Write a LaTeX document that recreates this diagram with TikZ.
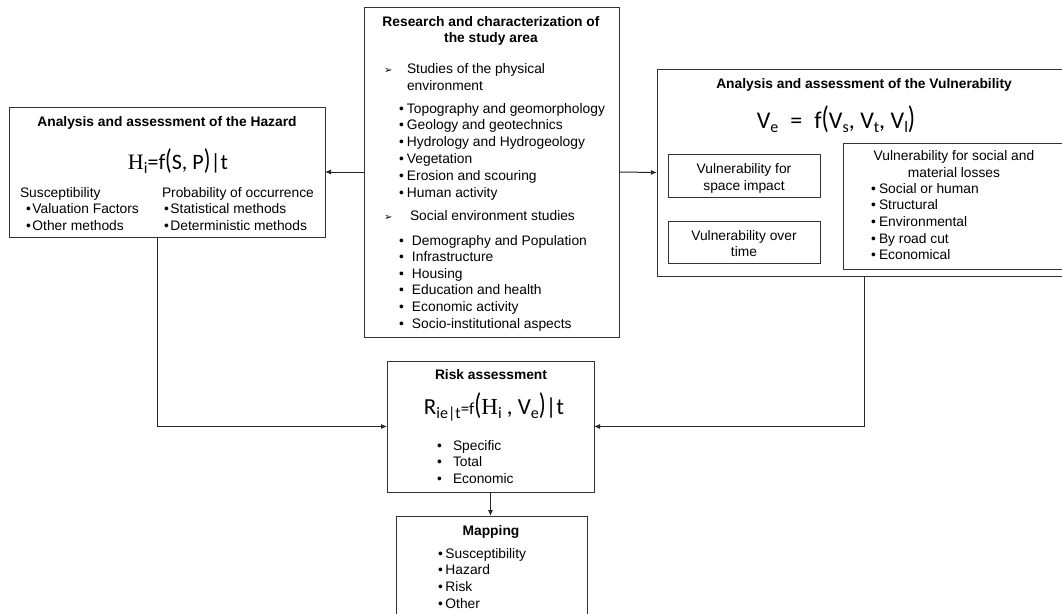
\documentclass[tikz,border=0pt]{standalone}
\usepackage{fontspec}
\usepackage{graphicx}
\setmainfont{Liberation Sans}
\newfontfamily\dejavu{DejaVu Sans}
\newfontfamily\calfont{Carlito}
\newfontfamily\serfont{Liberation Serif}
\usetikzlibrary{arrows.meta}
\newcommand\mysub[1]{\raisebox{-4pt}{\fontsize{16}{16}\selectfont #1}}
\newcommand\bigpar[1]{\scalebox{1}[1.3]{#1}}
\newcommand\arrowmark{{\dejavu\fontsize{10}{10}\selectfont ➢}}
\begin{document}
\begin{tikzpicture}[x=1pt,y=-1pt,
 box/.style={draw=black!80, line width=1pt, inner sep=0, outer sep=0},
 txt/.style={inner sep=0, outer sep=0, font=\fontsize{13.8}{16.6}\selectfont},
 ttl/.style={inner sep=0, outer sep=0, font=\fontsize{13.8}{16.6}\selectfont\bfseries},
 conn/.style={draw=black!85, line width=1pt},
 arr/.style={conn, -{Latex[length=6pt,width=5pt]}},
]
\useasboundingbox (0,0) rectangle (1062,613);
\clip (0,0) rectangle (1062,613);

% boxes
\node[box, anchor=north west, minimum width=255pt, minimum height=330pt] (study) at (364,7) {};
\node[box, anchor=north west, minimum width=316pt, minimum height=130pt] (hazard) at (9,107) {};
\node[box, anchor=north west, minimum width=420pt, minimum height=207pt] (vuln) at (657,69) {};
\node[box, anchor=north west, minimum width=152pt, minimum height=43pt] (space) at (668,154) {};
\node[box, anchor=north west, minimum width=152pt, minimum height=42pt] (overtime) at (668,221) {};
\node[box, anchor=north west, minimum width=230pt, minimum height=126pt] (losses) at (843,143) {};
\node[box, anchor=north west, minimum width=207pt, minimum height=131pt] (risk) at (387,361) {};
\node[box, anchor=north west, minimum width=191pt, minimum height=110pt] (mapping) at (396,516) {};

% connectors
\draw[arr] (study.west) -- (hazard.east);
\draw[arr] (study.east) -- (vuln.west);
\draw[arr] ([xshift=-10pt]hazard.south) |- (risk.west);
\draw[arr] ([xshift=-3pt]vuln.south) |- (risk.east);
\draw[arr] (risk.south) -- (risk.south |- mapping.north);

% study area
\node[ttl, anchor=base] (st1) at (491,26) {Research and characterization of};
\node[ttl, anchor=base] (st2) at (491,42) {the study area};
\node[txt, anchor=base west] (sa1) at (384,73) {\makebox[23pt][l]{\arrowmark}Studies of the physical};
\node[txt, anchor=base west] (sa2) at (407,90) {environment};
\foreach \t [count=\i] in {Topography and geomorphology, Geology and geotechnics, Hydrology and Hydrogeology, Vegetation, Erosion and scouring, Human activity}
  \node[txt, anchor=base west] (sp\i) at ({399},{96.2+16.8*\i}) {\makebox[8pt][l]{•}\t};
\node[txt, anchor=base west] (sb1) at (384,220) {\makebox[26pt][l]{\arrowmark}Social environment studies};
\foreach \t [count=\i] in {Demography and Population, Infrastructure, Housing, Education and health, Economic activity, Socio-institutional aspects}
  \node[txt, anchor=base west] (ss\i) at ({399},{228.4+16.6*\i}) {\makebox[13pt][l]{•}\t};

% hazard
\node[ttl, anchor=base] (ht) at (167,126) {Analysis and assessment of the Hazard};
\node[inner sep=0, anchor=base] (hf) at (178,169) {\calfont\fontsize{22}{22}\selectfont{\serfont H}\mysub{i}=f\bigpar{(}S, P\bigpar{)}|t};
\node[txt, anchor=base west] (hs) at (20,197) {Susceptibility};
\node[txt, anchor=base west] (hs1) at (26,213.5) {\makebox[6.5pt][l]{•}Valuation Factors};
\node[txt, anchor=base west] (hs2) at (26,230) {\makebox[6.5pt][l]{•}Other methods};
\node[txt, anchor=base west] (hp) at (162,197) {Probability of occurrence};
\node[txt, anchor=base west] (hp1) at (164,213.5) {\makebox[6.5pt][l]{•}Statistical methods};
\node[txt, anchor=base west] (hp2) at (164,230) {\makebox[6.5pt][l]{•}Deterministic methods};

% vulnerability
\node[ttl, anchor=base] (vt) at (864,88) {Analysis and assessment of the Vulnerability};
\node[inner sep=0, anchor=base] (vf) at (836,128) {\calfont\fontsize{24}{24}\selectfont V\mysub{e}\enspace=\enspace f\bigpar{(}V\mysub{s}, V\mysub{t}, V\mysub{l}\bigpar{)}};
\node[txt, anchor=base] (vs1) at (744,173) {Vulnerability for};
\node[txt, anchor=base] (vs2) at (744,190) {space impact};
\node[txt, anchor=base] (vo1) at (744,240) {Vulnerability over};
\node[txt, anchor=base] (vo2) at (744,256) {time};
\node[txt, anchor=base] (vl1) at (954,160) {Vulnerability for social and};
\node[txt, anchor=base] (vl2) at (954,177) {material losses};
\foreach \t [count=\i] in {Social or human, Structural, Environmental, By road cut, Economical}
  \node[txt, anchor=base west] (vb\i) at ({871},{176.3+16.7*\i}) {\makebox[8pt][l]{•}\t};

% risk
\node[ttl, anchor=base] (rt) at (491,379) {Risk assessment};
\node[inner sep=0, anchor=base] (rf) at (494,414) {\calfont\fontsize{23}{23}\selectfont R\mysub{ie|t}{\fontsize{17}{17}\selectfont=f}\bigpar{(}{\serfont H}\mysub{i} , V\mysub{e}\bigpar{)}|t};
\foreach \t [count=\i] in {Specific, Total, Economic}
  \node[txt, anchor=base west] (rb\i) at ({437},{433.3+16.7*\i}) {\makebox[16pt][l]{•}\t};

% mapping
\node[ttl, anchor=base] (mt) at (491,535) {Mapping};
\foreach \t [count=\i] in {Susceptibility, Hazard, Risk, Other}
  \node[txt, anchor=base west] (mb\i) at ({438},{541.3+16.7*\i}) {\makebox[7.5pt][l]{•}\t};
\end{tikzpicture}
\end{document}
